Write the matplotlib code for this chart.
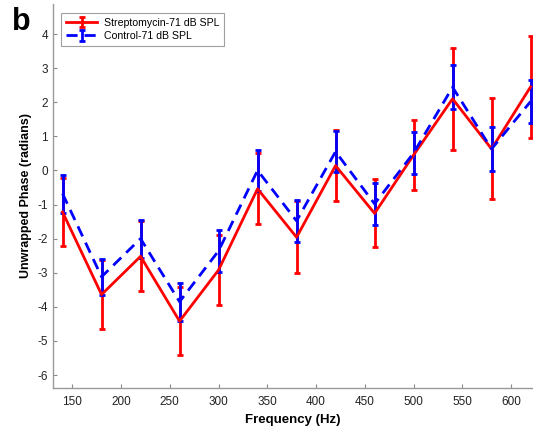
import numpy as np
import matplotlib
matplotlib.use('Agg')
import matplotlib.pyplot as plt

plt.rcParams['font.family'] = ['Liberation Sans', 'DejaVu Sans']
plt.rcParams['axes.unicode_minus'] = False

# frequencies and unwrapped phase (mean +/- error)
freq = [140, 180, 220, 260, 300, 340, 380, 420, 460, 500, 540, 580, 620]
strep_mean = [-1.22, -3.64, -2.52, -4.42, -2.92, -0.54, -1.96, 0.14, -1.26, 0.45, 2.10, 0.63, 2.45]
strep_err = [1.00, 1.00, 1.03, 1.00, 1.03, 1.04, 1.06, 1.04, 1.00, 1.02, 1.49, 1.48, 1.50]
ctrl_mean = [-0.68, -3.12, -2.00, -3.85, -2.36, 0.00, -1.48, 0.55, -0.98, 0.51, 2.44, 0.63, 2.02]
ctrl_err = [0.56, 0.52, 0.56, 0.56, 0.61, 0.60, 0.61, 0.61, 0.62, 0.62, 0.65, 0.65, 0.64]
xticks = [150, 200, 250, 300, 350, 400, 450, 500, 550, 600]
yticks = [-6, -5, -4, -3, -2, -1, 0, 1, 2, 3, 4]

W, H = 533, 429
fig = plt.figure(figsize=(W / 100, H / 100), dpi=100)
ax = fig.add_axes([53 / W, 1 - 388 / H, 480 / W, 384 / H])

ax.errorbar(freq, strep_mean, yerr=strep_err, color='#ff0000', lw=2,
            elinewidth=2, capsize=2.2, capthick=2,
            label='Streptomycin-71 dB SPL')
ax.errorbar(freq, ctrl_mean, yerr=ctrl_err, color='#0000ff', lw=2,
            ls=(0, (4, 2.5)), elinewidth=2, capsize=2.2, capthick=2,
            label='Control-71 dB SPL')

ax.set_xlim(130.2, 622.5)
ax.set_ylim(-6.38, 4.88)
ax.set_xticks(xticks)
ax.set_yticks(yticks)
ax.tick_params(direction='in', length=3, width=0.8, color='#888888',
               labelsize=8.5, labelcolor='#222222')
ax.tick_params(axis='x', pad=6)
for s in ['top', 'right']:
    ax.spines[s].set_visible(False)
for s in ['left', 'bottom']:
    ax.spines[s].set_color('#999999')
    ax.spines[s].set_linewidth(1)

ax.set_xlabel('Frequency (Hz)', fontsize=9.5, fontweight='bold', labelpad=4)
ax.set_ylabel('Unwrapped Phase (radians)', fontsize=9, fontweight='bold', labelpad=4)

leg = ax.legend(loc='upper left', bbox_to_anchor=(8 / 480, 1 - 9 / 384),
                fontsize=7.6, frameon=True, fancybox=False, borderpad=0.45,
                handlelength=3.0, handletextpad=0.6, labelspacing=0.3,
                borderaxespad=0)
leg.get_frame().set_edgecolor('#888888')
leg.get_frame().set_linewidth(0.8)

fig.text(12 / W, 1 - 30 / H, 'b', fontsize=22, fontweight='bold')

fig.savefig('out.png', dpi=100)
